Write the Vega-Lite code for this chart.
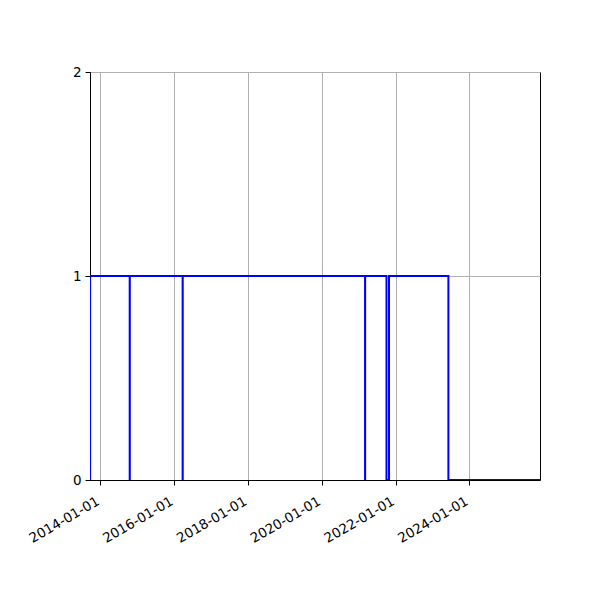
{
  "$schema": "https://vega.github.io/schema/vega-lite/v6.json",
  "description": "Step line of a 0/1 status over time.",
  "autosize": {"type": "none"},
  "padding": {"left": 90, "top": 72, "right": 60, "bottom": 120},
  "width": 450,
  "height": 408,
  "background": "white",
  "config": {
    "view": {"stroke": "black", "strokeWidth": 1},
    "axis": {
      "labelFont": "DejaVu Sans",
      "labelFontSize": 13.5,
      "labelColor": "black",
      "labelOverlap": false,
      "tickColor": "black",
      "tickSize": 5,
      "domainColor": "black",
      "gridColor": "#b0b0b0",
      "gridWidth": 1,
      "title": null
    }
  },
  "data": {
    "values": [
      {"date": "2013-09-20", "status": 0},
      {"date": "2013-09-21", "status": 1},
      {"date": "2014-10-18", "status": 0},
      {"date": "2014-10-19", "status": 1},
      {"date": "2016-03-25", "status": 0},
      {"date": "2016-03-26", "status": 1},
      {"date": "2021-03-05", "status": 0},
      {"date": "2021-03-06", "status": 1},
      {"date": "2021-10-03", "status": 0},
      {"date": "2021-10-28", "status": 1},
      {"date": "2023-06-08", "status": 0},
      {"date": "2025-12-01", "status": 0}
    ]
  },
  "mark": {"type": "line", "interpolate": "step-after", "color": "blue", "strokeWidth": 2, "clip": true},
  "encoding": {
    "x": {
      "field": "date",
      "type": "temporal",
      "scale": {
        "type": "utc",
        "domain": [
          {"year": 2013, "month": 9, "date": 20, "utc": true},
          {"year": 2025, "month": 12, "date": 1, "utc": true}
        ]
      },
      "axis": {
        "values": [
          {"year": 2014, "month": 1, "date": 1, "utc": true},
          {"year": 2016, "month": 1, "date": 1, "utc": true},
          {"year": 2018, "month": 1, "date": 1, "utc": true},
          {"year": 2020, "month": 1, "date": 1, "utc": true},
          {"year": 2022, "month": 1, "date": 1, "utc": true},
          {"year": 2024, "month": 1, "date": 1, "utc": true}
        ],
        "labelExpr": "utcFormat(datum.value, '%Y-%m-%d')",
        "labelAngle": -30,
        "labelAlign": "right",
        "labelBaseline": "top",
        "labelPadding": 9,
        "labelOffset": -6,
        "grid": true
      }
    },
    "y": {
      "field": "status",
      "type": "quantitative",
      "scale": {"domain": [0, 2], "nice": false},
      "axis": {"values": [0, 1, 2], "labelExpr": "toString(datum.value)", "grid": true, "labelPadding": 4}
    }
  }
}
